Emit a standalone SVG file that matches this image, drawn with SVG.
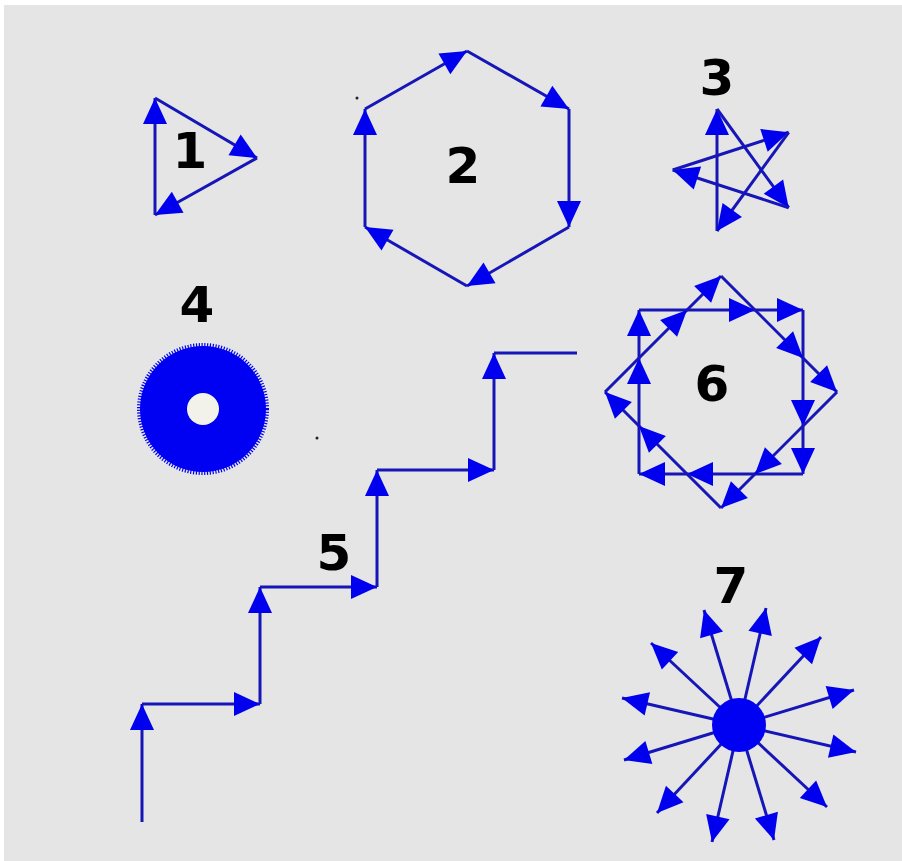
<svg xmlns="http://www.w3.org/2000/svg" width="902" height="861" viewBox="0 0 902 861">
<defs>
<marker id="ah" markerUnits="userSpaceOnUse" markerWidth="28" markerHeight="26" refX="26" refY="12" orient="auto" overflow="visible">
<path d="M0,0 L26,12 L0,24 Z" fill="#0000ee"/>
</marker>
<style>
.ln{fill:none;stroke:#1616b8;stroke-width:3;marker-end:url(#ah)}
.pl{fill:none;stroke:#1616b8;stroke-width:3}
.lb{font-family:"DejaVu Sans","Liberation Sans",sans-serif;font-weight:bold;font-size:50px;fill:#000;text-anchor:middle}
</style>
</defs>
<rect x="0" y="0" width="902" height="861" fill="#ffffff"/>
<rect x="4" y="5" width="898" height="856" fill="#e5e5e5"/>

<g id="fig1">
<path class="ln" d="M155,215 L155,98"/>
<path class="ln" d="M155,98 L257,158"/>
<path class="ln" d="M257,158 L155,215"/>
<text class="lb" x="190" y="168">1</text>
</g>

<g id="fig2">
<path class="ln" d="M365,109 L467,51"/>
<path class="ln" d="M467,51 L569,109"/>
<path class="ln" d="M569,109 L569,227"/>
<path class="ln" d="M569,227 L467,286"/>
<path class="ln" d="M467,286 L365,227"/>
<path class="ln" d="M365,227 L365,109"/>
<circle cx="357" cy="98" r="1.5" fill="#222"/>
<text class="lb" x="463" y="183">2</text>
</g>

<g id="fig3">
<path class="ln" d="M717,231 L717,109"/>
<path class="ln" d="M717,109 L788.7,207.7"/>
<path class="ln" d="M788.7,207.7 L672.7,170"/>
<path class="ln" d="M672.7,170 L788.7,132.3"/>
<path class="ln" d="M788.7,132.3 L717,231"/>
<text class="lb" x="717" y="95">3</text>
</g>

<g id="fig4">
<circle cx="203" cy="409" r="63" fill="#0000f2"/>
<circle cx="203" cy="409" r="64" fill="none" stroke="#0000f2" stroke-width="4" stroke-dasharray="1.2 1.6"/>
<circle cx="203" cy="409" r="16" fill="#f2f2ea"/>
<circle cx="317" cy="438" r="1.5" fill="#222"/>
<text class="lb" x="197" y="322">4</text>
</g>

<g id="fig5">
<path class="ln" d="M142,822 L142,704"/>
<path class="ln" d="M142,704 L260,704"/>
<path class="ln" d="M260,704 L260,587"/>
<path class="ln" d="M260,587 L377,587"/>
<path class="ln" d="M377,587 L377,470"/>
<path class="ln" d="M377,470 L494,470"/>
<path class="ln" d="M494,470 L494,353"/>
<path class="pl" d="M494,353 L577,353"/>
<text class="lb" x="334" y="570">5</text>
</g>

<g id="fig6">
<path class="ln" d="M639,474 L639,358"/>
<path class="ln" d="M639,358 L639,310"/>
<path class="ln" d="M639,310 L755,310"/>
<path class="ln" d="M755,310 L803,310"/>
<path class="ln" d="M803,310 L803,426"/>
<path class="ln" d="M803,426 L803,474"/>
<path class="ln" d="M803,474 L687,474"/>
<path class="ln" d="M687,474 L639,474"/>
<path class="ln" d="M605,392 L687,310"/>
<path class="ln" d="M687,310 L721,276"/>
<path class="ln" d="M721,276 L803,358"/>
<path class="ln" d="M803,358 L837,392"/>
<path class="ln" d="M837,392 L755,474"/>
<path class="ln" d="M755,474 L721,508"/>
<path class="ln" d="M721,508 L639,426"/>
<path class="ln" d="M639,426 L605,392"/>
<text class="lb" x="712" y="401">6</text>
</g>

<g id="fig7">
<path class="ln" d="M739,725 L766,608"/>
<path class="ln" d="M739,725 L821,637"/>
<path class="ln" d="M739,725 L854,690"/>
<path class="ln" d="M739,725 L856,752"/>
<path class="ln" d="M739,725 L827,807"/>
<path class="ln" d="M739,725 L774,840"/>
<path class="ln" d="M739,725 L712,842"/>
<path class="ln" d="M739,725 L657,813"/>
<path class="ln" d="M739,725 L624,760"/>
<path class="ln" d="M739,725 L622,698"/>
<path class="ln" d="M739,725 L651,643"/>
<path class="ln" d="M739,725 L704,610"/>
<circle cx="739" cy="725" r="27" fill="#0000f2"/>
<text class="lb" x="731" y="603">7</text>
</g>
</svg>
